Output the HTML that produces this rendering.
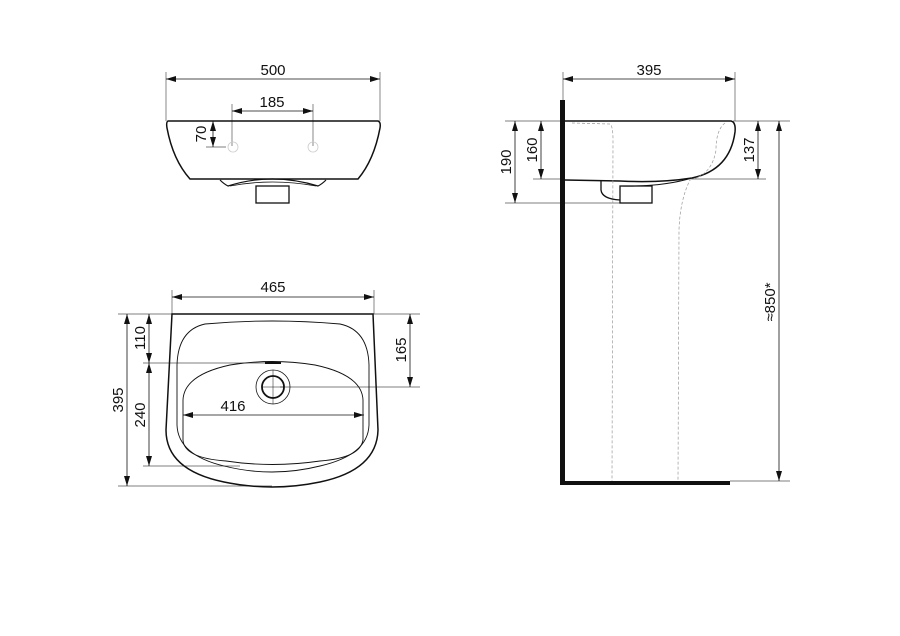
<!DOCTYPE html>
<html><head><meta charset="utf-8"><style>
html,body{margin:0;padding:0;background:#fff;}
svg{display:block;}
text{font-family:"Liberation Sans",Arial,sans-serif;font-size:15px;fill:#111;}
</style></head><body>
<svg width="900" height="636" viewBox="0 0 900 636" xmlns="http://www.w3.org/2000/svg">
<defs>
<marker id="a" viewBox="0 0 10 6" refX="10" refY="3" markerWidth="10" markerHeight="6" markerUnits="userSpaceOnUse" orient="auto-start-reverse"><path d="M0,0L10,3L0,6z" fill="#111"/></marker>
</defs>
<g stroke="#555" stroke-width="0.7" fill="none">
<line x1="166" y1="72" x2="166" y2="121"/><line x1="380" y1="72" x2="380" y2="121"/>
<line x1="232" y1="104" x2="232" y2="146"/><line x1="313" y1="104" x2="313" y2="146"/>
<line x1="206" y1="147" x2="226" y2="147"/>
<line x1="563" y1="72" x2="563" y2="100"/><line x1="735" y1="72" x2="735" y2="121"/>
<line x1="505" y1="121" x2="561" y2="121"/><line x1="733" y1="121" x2="790" y2="121"/>
<line x1="533" y1="179" x2="561" y2="179"/><line x1="692" y1="179" x2="766" y2="179"/>
<line x1="505" y1="203" x2="650" y2="203"/><line x1="730" y1="481" x2="790" y2="481"/>
<line x1="172" y1="290" x2="172" y2="314"/><line x1="374" y1="290" x2="374" y2="314"/>
<line x1="118" y1="314" x2="420" y2="314"/>
<line x1="143" y1="363" x2="280" y2="363"/>
<line x1="280" y1="387" x2="420" y2="387"/>
<line x1="143" y1="466" x2="240" y2="466"/>
<line x1="118" y1="486" x2="272" y2="486"/>
</g>
<g stroke="#111" stroke-width="0.8" fill="none">
<line x1="166" y1="79" x2="380" y2="79" marker-start="url(#a)" marker-end="url(#a)"/>
<line x1="232" y1="111" x2="313" y2="111" marker-start="url(#a)" marker-end="url(#a)"/>
<line x1="213" y1="121" x2="213" y2="147" marker-start="url(#a)" marker-end="url(#a)"/>
<line x1="563" y1="79" x2="735" y2="79" marker-start="url(#a)" marker-end="url(#a)"/>
<line x1="515" y1="121" x2="515" y2="203" marker-start="url(#a)" marker-end="url(#a)"/>
<line x1="541" y1="121" x2="541" y2="179" marker-start="url(#a)" marker-end="url(#a)"/>
<line x1="758" y1="121" x2="758" y2="179" marker-start="url(#a)" marker-end="url(#a)"/>
<line x1="779" y1="121" x2="779" y2="481" marker-start="url(#a)" marker-end="url(#a)"/>
<line x1="172" y1="297" x2="374" y2="297" marker-start="url(#a)" marker-end="url(#a)"/>
<line x1="127" y1="314" x2="127" y2="486" marker-start="url(#a)" marker-end="url(#a)"/>
<line x1="149" y1="314" x2="149" y2="363" marker-start="url(#a)" marker-end="url(#a)"/>
<line x1="149" y1="363" x2="149" y2="466" marker-start="url(#a)" marker-end="url(#a)"/>
<line x1="410" y1="314" x2="410" y2="387" marker-start="url(#a)" marker-end="url(#a)"/>
<line x1="183" y1="415" x2="364" y2="415" marker-start="url(#a)" marker-end="url(#a)"/>
</g>
<g stroke="#111" stroke-width="1.5" fill="none">
<path d="M168,121 L378,121 Q381,122 380,128 Q374,160 358,179 L190,179 Q173,160 167,128 Q166,122 168,121 Z"/>
<path d="M220,180 Q224,184 228,186 Q272,172 318,186 Q322,184 326,180" stroke-width="1.2"/>
<path d="M230,186 Q272,178 316,186" stroke-width="0.8"/>
<rect x="256" y="186" width="33" height="17" stroke-width="1.3"/>
</g>
<circle cx="233" cy="147" r="5" fill="none" stroke="#ccc" stroke-width="0.8"/>
<circle cx="313" cy="147" r="5" fill="none" stroke="#ccc" stroke-width="0.8"/>
<rect x="560" y="100" width="5" height="385" fill="#111"/>
<rect x="560" y="481" width="170" height="4" fill="#111"/>
<g stroke="#111" stroke-width="1.5" fill="none">
<path d="M565,121 L731,121 Q736,122 735,132 Q730,170 692,178 Q660,183 620,181 L565,180"/>
<path d="M692,178 Q662,187 620,186" stroke-width="1"/>
<path d="M601,180 L601,190 Q602,199 620,200" stroke-width="1.3"/>
<rect x="620" y="186" width="32" height="17" stroke-width="1.3"/>
</g>
<g stroke="#999" stroke-width="0.7" fill="none" stroke-dasharray="3,2">
<path d="M572,123 L610,124 Q613,126 613,140 L612,481"/>
<path d="M725,123 Q716,130 716,150 Q712,175 690,180 Q680,200 679,230 L678,481"/>
</g>
<g stroke="#111" fill="none">
<path d="M172,314 L373,314 L378,430 Q377,470 320,482 Q272,492 224,482 Q166,470 166,430 Z" stroke-width="1.5"/>
<path d="M205,324 Q272,318 340,324 Q368,330 369,365 L369,425 Q368,455 320,466 Q272,478 224,466 Q178,455 177,425 L177,365 Q178,330 205,324 Z" stroke-width="0.9"/>
<path d="M230,365 Q272,358 315,365 Q362,375 363,400 L363,440 Q360,458 320,461 Q272,468 226,461 Q184,458 183,440 L183,400 Q184,375 230,365 Z" stroke-width="0.9"/>
<line x1="265" y1="363" x2="281" y2="363" stroke-width="2"/>
<circle cx="273" cy="387" r="17" stroke-width="0.8"/>
<circle cx="273" cy="387" r="11" stroke-width="1.8"/>
<line x1="273" y1="370" x2="273" y2="404" stroke-width="0.5"/>
<line x1="262" y1="387" x2="284" y2="387" stroke-width="0.5"/>
</g>
<text x="273" y="75" text-anchor="middle">500</text>
<text x="272" y="107" text-anchor="middle">185</text>
<text transform="translate(206,134) rotate(-90)" text-anchor="middle">70</text>
<text x="649" y="75" text-anchor="middle">395</text>
<text transform="translate(511,162) rotate(-90)" text-anchor="middle">190</text>
<text transform="translate(537,150) rotate(-90)" text-anchor="middle">160</text>
<text transform="translate(754,150) rotate(-90)" text-anchor="middle">137</text>
<text transform="translate(775,302) rotate(-90)" text-anchor="middle">≈850*</text>
<text x="273" y="292" text-anchor="middle">465</text>
<text transform="translate(123,400) rotate(-90)" text-anchor="middle">395</text>
<text transform="translate(145,338) rotate(-90)" text-anchor="middle">110</text>
<text transform="translate(145,415) rotate(-90)" text-anchor="middle">240</text>
<text transform="translate(406,350) rotate(-90)" text-anchor="middle">165</text>
<text x="233" y="411" text-anchor="middle">416</text>
</svg>
</body></html>
